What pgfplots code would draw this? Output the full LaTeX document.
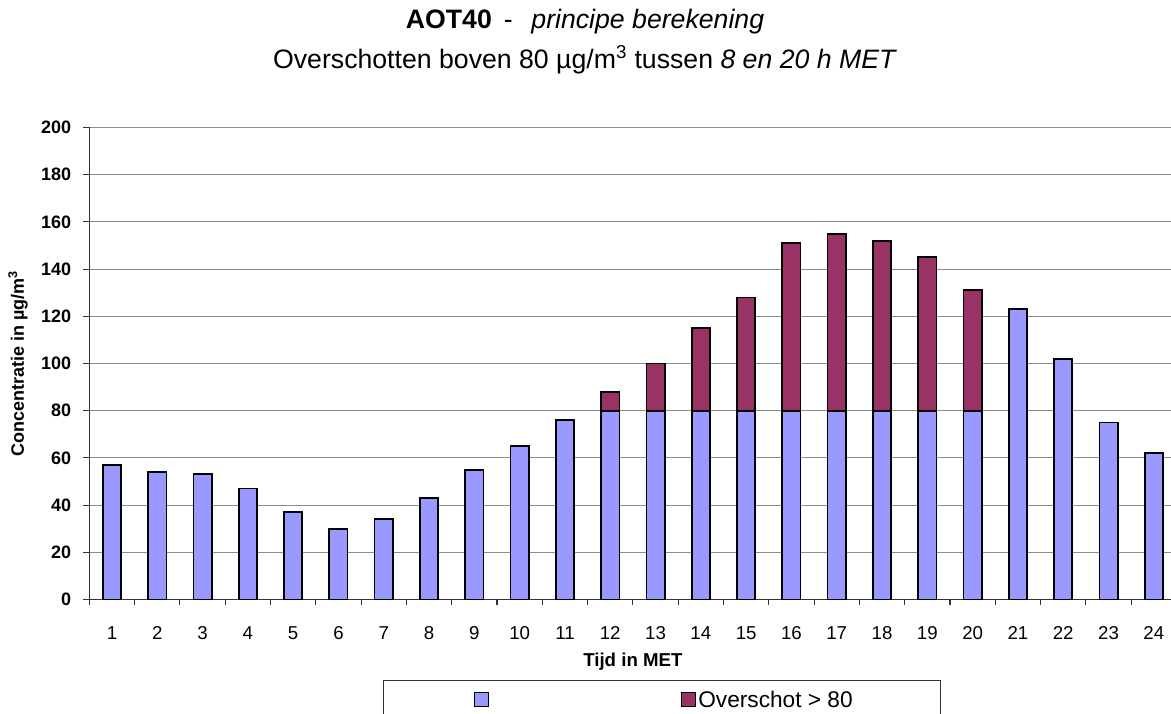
\documentclass[border=0pt]{standalone}
\usepackage{fontspec}
\setmainfont{Liberation Sans}
\usepackage{pgfplots}
\pgfplotsset{compat=1.18}
\definecolor{basecol}{HTML}{9999FF}
\definecolor{overcol}{HTML}{993366}
\definecolor{gridcol}{HTML}{8C8C8C}
\begin{document}
\begin{tikzpicture}
\begin{axis}[
  name=ax,
  at={(0,0)},
  scale only axis,
  width=815.4pt, height=354pt,
  xmin=0.5, xmax=24.5,
  ymin=0, ymax=200,
  ybar stacked,
  bar width=13.7pt,
  axis x line*=bottom, axis y line*=left,
  axis line style={black!80, line width=0.8pt, -},
  ytick={0,20,...,200},
  ymajorgrids,
  grid style={gridcol, line width=0.8pt},
  xtick={1,...,24},
  minor xtick={0.5,1.5,...,24.5},
  major x tick style={draw=none},
  minor x tick style={black!80, line width=0.8pt},
  major y tick style={black!80, line width=0.8pt},
  tick align=outside,
  major tick length=4.5pt, minor tick length=4.5pt,
  /pgf/number format/assume math mode=true,
  yticklabel style={font=\bfseries\fontsize{13.5}{15}\selectfont, anchor=east, inner sep=0pt, xshift=-9pt},
  xticklabel style={font=\fontsize{14}{16}\selectfont, anchor=base, inner sep=0pt, yshift=-25.9pt},
  ylabel={Concentratie in µg/m\textsuperscript{3}},
  xlabel={Tijd in MET},
  every axis y label/.style={at={(axis description cs:-0.0656,0.5)}, rotate=90, anchor=center, font=\bfseries\fontsize{13.5}{15}\selectfont},
  every axis x label/.style={at={(axis description cs:0.5,0)}, yshift=-50.4pt, anchor=base, font=\bfseries\fontsize{14}{16}\selectfont},
  legend columns=2,
  legend style={at={(axis description cs:0.2702,-0.1716)}, anchor=north west,
    draw=black!80, inner sep=0pt, font=\fontsize{17}{20}\selectfont,
    /tikz/column sep=0pt, /tikz/row sep=0pt,
    nodes={inner sep=0pt}, cells={anchor=base west}},
]
\addplot[fill=basecol, draw=black, line width=1.3pt,
  legend image code/.code={\path[draw=none,fill=none] (-68.25pt,-16pt) rectangle (0pt,20.35pt);
    \draw[fill=basecol, draw=black, line width=1pt] (0pt,0.85pt) rectangle (10.5pt,11.35pt);}]
coordinates {(1,57) (2,54) (3,53) (4,47) (5,37) (6,30) (7,34) (8,43) (9,55) (10,65) (11,76) (12,80)
 (13,80) (14,80) (15,80) (16,80) (17,80) (18,80) (19,80) (20,80) (21,123) (22,102) (23,75) (24,62)};
\addlegendentry{}
\addplot[fill=overcol, draw=black, line width=1.3pt,
  legend image code/.code={\path[draw=none,fill=none] (-143.25pt,0pt) -- (0pt,0pt);
    \draw[fill=overcol, draw=black, line width=1pt] (0pt,0.85pt) rectangle (10.5pt,11.35pt);
    \path[draw=none,fill=none] (10.5pt,0pt) -- (12.75pt,0pt);}]
coordinates {(1,0) (2,0) (3,0) (4,0) (5,0) (6,0) (7,0) (8,0) (9,0) (10,0) (11,0) (12,8)
 (13,20) (14,35) (15,48) (16,71) (17,75) (18,72) (19,65) (20,51) (21,0) (22,0) (23,0) (24,0)};
\addlegendentry{Overschot > 80\hspace*{66pt}}
\coordinate (bl) at (rel axis cs:0,0);
\coordinate (tr) at (rel axis cs:1,1);
\coordinate (tt) at (rel axis cs:0.456,1);
\end{axis}
\node[anchor=base, font=\fontsize{20}{24}\selectfont] at ([yshift=73.9pt]tt) {\textbf{AOT40}\hspace{0.45em}-\hspace{0.7em}\textit{principe berekening}};
\node[anchor=base, font=\fontsize{20}{24}\selectfont] at ([yshift=44.2pt]tt) {Overschotten boven 80 µg/m\textsuperscript{3} tussen \textit{8 en 20 h MET}};
\path (bl) ++(-67pt,-85.9pt) coordinate (p1);
\path (bl) ++(811.3pt,449.6pt) coordinate (p2);
\pgfresetboundingbox
\useasboundingbox (p1) rectangle (p2);
\end{tikzpicture}
\end{document}
